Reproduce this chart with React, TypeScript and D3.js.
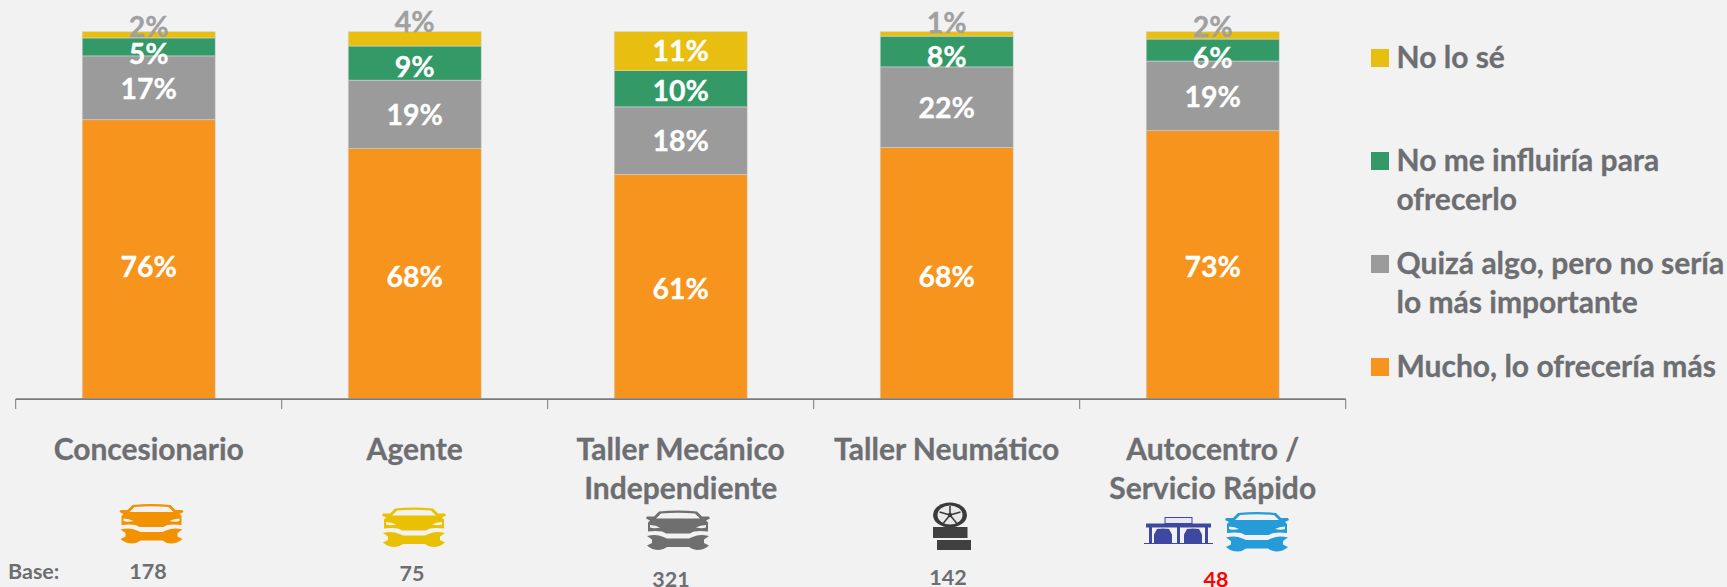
import React from "react";
import * as d3 from "d3";

// ---- data ----
const categories = ["Concesionario", "Agente", "Taller Mecánico Independiente", "Taller Neumático", "Autocentro / Servicio Rápido"];
const categoryLines = [["Concesionario"], ["Agente"], ["Taller Mecánico", "Independiente"], ["Taller Neumático"], ["Autocentro /", "Servicio Rápido"]];
const mucho = [76, 68.1, 61.1, 68.4, 73];
const quiza = [17.4, 18.7, 18.4, 22, 19];
const noInfluye = [4.9, 9.3, 9.9, 8.4, 6];
const noSe = [1.7, 3.9, 10.6, 1.2, 2];
const labelsMucho = ["76%", "68%", "61%", "68%", "73%"];
const labelsQuiza = ["17%", "19%", "18%", "22%", "19%"];
const labelsNoInfluye = ["5%", "9%", "10%", "8%", "6%"];
const labelsNoSe = ["2%", "4%", "11%", "1%", "2%"];
const bases = ["178", "75", "321", "142", "48"];

// ---- layout / style ----
const W = 1727, H = 587;
const BG = "#f2f2f2";
const TEXT = "#6d6e71";
const FONT = "Lato, 'Open Sans', sans-serif";
const seriesKeys = ["mucho", "quiza", "noInfluye", "noSe"];
const colors: Record<string, string> = { mucho: "#f7941d", quiza: "#9b9b9b", noInfluye: "#339966", noSe: "#e8bf11" };
const labelNudges: Record<string, number[]> = {
  mucho: [7.7, 3.3, 2.7, 3.8, 2.2],
  quiza: [1, 1, 0.5, 0.5, 1.6],
  noInfluye: [6.6, 4.4, 2.7, 5.5, 7.7],
  noSe: [-7.5, -16.6, -0.6, -10.5, -8],
};
const baseBaselines = [579, 581, 586.5, 585, 586.5];
const baseCenters = [148, 412, 671, 948, 1216];
const catBaselines = [460, 499];

const table = categories.map((c, i) => ({ c, mucho: mucho[i], quiza: quiza[i], noInfluye: noInfluye[i], noSe: noSe[i] }));
const labelTexts: Record<string, string[]> = { mucho: labelsMucho, quiza: labelsQuiza, noInfluye: labelsNoInfluye, noSe: labelsNoSe };

const legendItems = [
  { key: "noSe", lines: ["No lo sé"], top: 49 },
  { key: "noInfluye", lines: ["No me influiría para", "ofrecerlo"], top: 152 },
  { key: "quiza", lines: ["Quizá algo, pero no sería", "lo más importante"], top: 255 },
  { key: "mucho", lines: ["Mucho, lo ofrecería más"], top: 358 },
];

const x = d3.scaleBand<string>().domain(categories).range([15.7, 1345.7]).paddingInner(0.5).paddingOuter(0.25);
const y = d3.scaleLinear().domain([0, 100]).range([398.5, 31.7]);
const stack = d3.stack<any>().keys(seriesKeys)(table);

function CarIcon({ px, py, color }: { px: number; py: number; color: string }) {
  return (
    <g transform={`translate(${px},${py})`}>
      <path
        fill={color}
        fillRule="evenodd"
        d="M1 6 L8 6 L13 1 Q32 -1 51 1 L56 6 L63 6 L64 8 L60 10 L62 12 L62 21 Q48 19.5 44 23 L20 23 Q16 19.5 2 21 L2 12 L4 10 L0 8 Z M10 8 L15 3 Q32 1.5 49 3 L54 8 Z"
      />
      <path fill={BG} d="M4 14.5 Q10 14.5 14 17 Q8 18.5 4 17 Z M60 14.5 Q54 14.5 50 17 Q56 18.5 60 17 Z" />
      <path
        fill={color}
        d="M1 25.5 Q8 24 13 25 Q18 26.5 21 28 L43 28 Q46 26.5 51 25 Q56 24 63 25.5 L58 29 L58 32.5 L63 35 Q58 39.5 51 39.5 Q46 39 43 36.5 L21 36.5 Q18 39 13 39.5 Q6 39.5 1 35 L6 32.5 L6 29 Z"
      />
    </g>
  );
}

function TireIcon({ px, py }: { px: number; py: number }) {
  return (
    <g transform={`translate(${px},${py})`}>
      <ellipse cx={17.5} cy={12} rx={17} ry={12.5} fill="#3a3a3a" />
      <ellipse cx={17.5} cy={12} rx={12.5} ry={9.5} fill="#e9e9e9" />
      <g stroke="#3a3a3a" strokeWidth={1.6}>
        <line x1={17.5} y1={12} x2={17.5} y2={3} />
        <line x1={17.5} y1={12} x2={28} y2={9} />
        <line x1={17.5} y1={12} x2={24} y2={20} />
        <line x1={17.5} y1={12} x2={11} y2={20} />
        <line x1={17.5} y1={12} x2={7} y2={9} />
      </g>
      <circle cx={17.5} cy={12} r={2.2} fill="#3a3a3a" />
      <rect x={0.5} y={24} width={34.5} height={11} fill="#404040" />
      <rect x={4.5} y={37} width={34} height={10} fill="#404040" />
    </g>
  );
}

function GarageIcon({ px, py }: { px: number; py: number }) {
  const c = "#3f48a0";
  const miniCar = (ox: number) => (
    <path fill={c} d={`M${ox} 27 L${ox} 18 L${ox + 3} 12.5 Q${ox + 9} 11.5 ${ox + 15} 12.5 L${ox + 18} 18 L${ox + 18} 27 Z`} />
  );
  return (
    <g transform={`translate(${px},${py})`}>
      <rect x={21} y={1} width={27} height={6} fill="#e8e8f4" stroke={c} strokeWidth={1} />
      <rect x={2} y={7} width={65} height={4} fill={c} />
      <rect x={5} y={10} width={3} height={17} fill={c} />
      <rect x={33} y={10} width={3} height={17} fill={c} />
      <rect x={61} y={10} width={3} height={17} fill={c} />
      {miniCar(10)}
      {miniCar(40)}
      <rect x={0} y={26.5} width={69} height={1} fill={c} />
    </g>
  );
}

export default function App() {
  const bw = x.bandwidth();
  const step = x.step();
  const edges = categories.map((c) => (x(c) as number) - (step - bw) / 2);
  edges.push(edges[edges.length - 1] + step);
  return (
    <svg
      width={W}
      height={H}
      viewBox={`0 0 ${W} ${H}`}
      style={{ position: "absolute", left: 0, top: 0, background: BG, fontFamily: FONT, fontWeight: 700 }}
    >
      {stack.map((s) => (
        <g key={s.key}>
          {s.map((d, i) => (
            <rect
              key={i}
              x={x(categories[i])}
              y={y(d[1])}
              width={bw}
              height={y(d[0]) - y(d[1])}
              fill={colors[s.key]}
              stroke="#d4d4d4"
              strokeWidth={0.6}
            />
          ))}
        </g>
      ))}
      {stack.map((s) => (
        <g key={s.key}>
          {s.map((d, i) => {
            const fill = s.key === "noSe" && i !== 2 ? "#a0a0a0" : "#ffffff";
            return (
              <text
                key={i}
                x={(x(categories[i]) as number) + bw / 2}
                y={(y(d[0]) + y(d[1])) / 2 + labelNudges[s.key][i] + 10}
                textAnchor="middle"
                fontSize={28.5}
                fill={fill}
                stroke={fill}
                strokeWidth={0.3}
              >
                {labelTexts[s.key][i]}
              </text>
            );
          })}
        </g>
      ))}
      <line x1={edges[0]} x2={edges[edges.length - 1]} y1={399.2} y2={399.2} stroke="#7a7a7a" strokeWidth={1.8} />
      {edges.map((e, i) => (
        <line key={i} x1={e} x2={e} y1={399} y2={409} stroke="#7a7a7a" strokeWidth={1} />
      ))}
      {categoryLines.map((lines, i) => (
        <text key={i} textAnchor="middle" fontSize={30} fill={TEXT} stroke={TEXT} strokeWidth={0.3}>
          {lines.map((l, j) => (
            <tspan key={j} x={(x(categories[i]) as number) + bw / 2} y={catBaselines[j]}>
              {l}
            </tspan>
          ))}
        </text>
      ))}
      {legendItems.map((it) => (
        <g key={it.key}>
          <rect x={1371} y={it.top} width={18} height={18} fill={colors[it.key]} />
          {it.lines.map((l, j) => (
            <text key={j} x={1396.5} y={it.top + 18.5 + j * 39} fontSize={30} fill={TEXT} stroke={TEXT} strokeWidth={0.3}>
              {l}
            </text>
          ))}
        </g>
      ))}
      <text x={8} y={579} fontSize={21.5} fill={TEXT}>Base:</text>
      {bases.map((b, i) => (
        <text key={i} x={baseCenters[i]} y={baseBaselines[i]} textAnchor="middle" fontSize={21.5} fill={i === 4 ? "#ff0000" : TEXT}>
          {b}
        </text>
      ))}
      <CarIcon px={119.5} py={504} color="#f39200" />
      <CarIcon px={382} py={507.5} color="#eac102" />
      <CarIcon px={646} py={510.5} color="#6f6f70" />
      <TireIcon px={932.5} py={503} />
      <GarageIcon px={1144} py={516.5} />
      <CarIcon px={1225} py={512} color="#259bd8" />
    </svg>
  );
}
